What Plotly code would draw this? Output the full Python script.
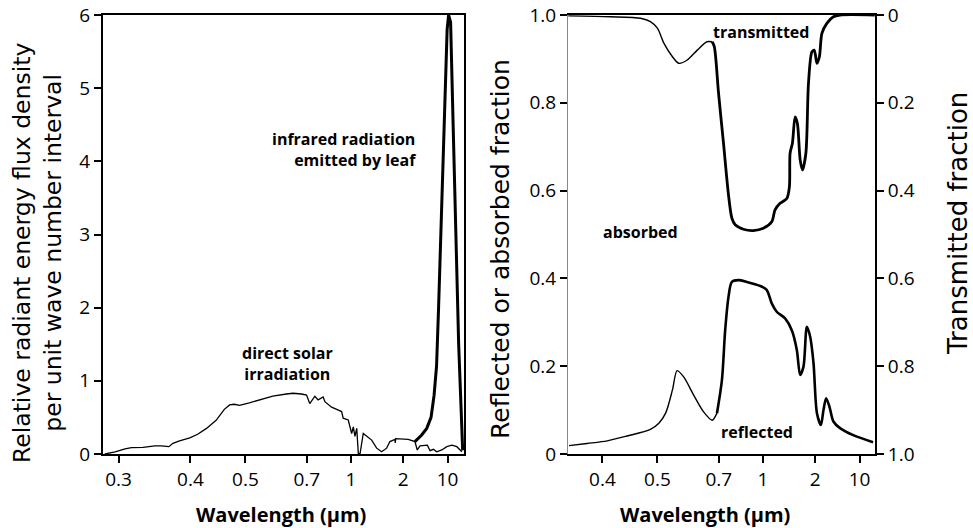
import numpy as np
import plotly.graph_objects as go

# ---------------- data ----------------
tick_values = [0.3, 0.4, 0.5, 0.7, 1, 2, 10]
tick_labels = ["0.3", "0.4", "0.5", "0.7", "1", "2", "10"]
# the printed wavelength axis is a non-uniform (hand-drawn) scale; these are its tick positions
scale_positions = [-232.5, -160.6, -105.6, -44.2, 0.0, 52.2, 96.6]

solar_wl = [0.284, 0.296, 0.308, 0.316, 0.331, 0.347, 0.356, 0.367, 0.373, 0.383,
            0.399, 0.412, 0.427, 0.444, 0.459, 0.469, 0.478, 0.488, 0.511, 0.550,
            0.581, 0.626, 0.649, 0.680, 0.699, 0.717, 0.747, 0.767, 0.799, 0.810,
            0.855, 0.891, 0.927, 0.939, 0.978, 1.009, 1.031, 1.054, 1.079, 1.102,
            1.127, 1.177, 1.231, 1.316, 1.406, 1.502, 1.605, 1.677, 1.792, 1.800,
            1.810, 1.915, 2.40, 3.06, 3.33, 3.68, 4.41, 4.80, 5.29, 5.97,
            6.75, 8.10, 9.72, 11.65, 13.98, 16.78]
solar_flux = [0.0, 0.03, 0.07, 0.086, 0.09, 0.11, 0.11, 0.10, 0.146, 0.18,
              0.22, 0.27, 0.35, 0.46, 0.61, 0.67, 0.68, 0.665, 0.70, 0.75,
              0.79, 0.82, 0.83, 0.82, 0.806, 0.69, 0.79, 0.74, 0.78, 0.715,
              0.64, 0.61, 0.58, 0.49, 0.465, 0.28, 0.37, 0.24, 0.35, 0.01,
              0.0, 0.28, 0.24, 0.19, 0.08, 0.03, 0.08, 0.17, 0.20, 0.15,
              0.21, 0.21, 0.20, 0.17, 0.055, 0.11, 0.11, 0.12, 0.045, 0.064,
              0.03, 0.055, 0.10, 0.12, 0.10, 0.03]

leaf_wl = [3.06, 3.91, 4.69, 5.49, 6.12, 6.70, 7.21, 8.10, 8.97, 9.83,
           10.37, 11.15, 12.22, 13.38, 14.93, 17.27]
leaf_flux = [0.17, 0.26, 0.35, 0.50, 0.80, 1.2, 2.0, 3.5, 4.8, 5.8,
             6.0, 5.9, 4.5, 3.0, 1.5, 0.05]

trans_wl = [0.349, 0.413, 0.467, 0.486, 0.500, 0.518, 0.543, 0.562, 0.589, 0.622,
            0.656, 0.675, 0.683, 0.699, 0.727, 0.757, 0.778, 0.799, 0.854, 0.925,
            1.004, 1.123, 1.173, 1.254, 1.372, 1.420, 1.433, 1.478, 1.532, 1.579,
            1.638, 1.689, 1.767, 1.829, 1.914, 1.974, 2.13, 2.33, 2.55, 3.05,
            3.87, 4.92, 17.35]
trans_frac = [0.002, 0.004, 0.0075, 0.015, 0.030, 0.064, 0.095, 0.110, 0.1025, 0.080,
              0.061, 0.061, 0.072, 0.178, 0.292, 0.410, 0.463, 0.478, 0.488, 0.491,
              0.486, 0.471, 0.444, 0.429, 0.418, 0.391, 0.315, 0.292, 0.232, 0.247,
              0.330, 0.353, 0.315, 0.156, 0.084, 0.080, 0.110, 0.095, 0.042, 0.019,
              0.004, 0.0, 0.0]

refl_wl = [0.350, 0.376, 0.408, 0.442, 0.486, 0.504, 0.523, 0.543, 0.557, 0.578,
           0.610, 0.644, 0.675, 0.693, 0.718, 0.737, 0.757, 0.778, 0.820, 0.878,
           0.976, 1.050, 1.123, 1.200, 1.341, 1.466, 1.567, 1.638, 1.712, 1.791,
           1.871, 1.956, 2.13, 2.46, 2.70, 2.97, 3.35, 3.87, 4.92, 7.94, 16.3]
refl_frac = [0.019, 0.024, 0.030, 0.041, 0.056, 0.070, 0.093, 0.146, 0.190, 0.175,
             0.134, 0.096, 0.077, 0.093, 0.169, 0.282, 0.358, 0.392, 0.396, 0.392,
             0.383, 0.374, 0.343, 0.324, 0.309, 0.282, 0.237, 0.180, 0.199, 0.290,
             0.267, 0.207, 0.093, 0.066, 0.100, 0.127, 0.108, 0.074, 0.059, 0.043, 0.027]

frac_ticks = [0, 0.2, 0.4, 0.6, 0.8, 1.0]
frac_labels = ["0", "0.2", "0.4", "0.6", "0.8", "1.0"]


# ---------------- scale ----------------
def to_axis(wl):
    lw = np.log10(np.asarray(wl, dtype=float))
    lt = np.log10(np.asarray(tick_values, dtype=float))
    p = np.asarray(scale_positions, dtype=float)
    out = np.interp(lw, lt, p)
    s0 = (p[1] - p[0]) / (lt[1] - lt[0])
    s1 = (p[-1] - p[-2]) / (lt[-1] - lt[-2])
    lo = lw < lt[0]
    hi = lw > lt[-1]
    out[lo] = p[0] + (lw[lo] - lt[0]) * s0
    out[hi] = p[-1] + (lw[hi] - lt[-1]) * s1
    return out


W, H = 973, 528


def px(x):
    return x / W


def py(y):
    return 1 - y / H


def split(wl, vals, at):
    wl = np.asarray(wl)
    vals = np.asarray(vals)
    a = wl <= at
    b = wl >= at
    return (wl[a], vals[a]), (wl[b], vals[b])


fig = go.Figure()

# left panel
fig.add_trace(go.Scatter(x=to_axis(solar_wl), y=solar_flux, mode="lines",
                         line=dict(color="black", width=1.3), xaxis="x", yaxis="y"))
fig.add_trace(go.Scatter(x=to_axis(leaf_wl), y=leaf_flux, mode="lines",
                         line=dict(color="black", width=3), xaxis="x", yaxis="y"))

# right panel
(t1w, t1v), (t2w, t2v) = split(trans_wl, trans_frac, 0.675)
fig.add_trace(go.Scatter(x=to_axis(t1w), y=t1v, mode="lines",
                         line=dict(color="black", width=1.4, shape="spline", smoothing=0.8),
                         xaxis="x2", yaxis="y3"))
fig.add_trace(go.Scatter(x=to_axis(t2w), y=t2v, mode="lines",
                         line=dict(color="black", width=2.8, shape="spline", smoothing=0.8),
                         xaxis="x2", yaxis="y3"))
(r1w, r1v), (r2w, r2v) = split(refl_wl, refl_frac, 0.693)
fig.add_trace(go.Scatter(x=to_axis(r1w), y=r1v, mode="lines",
                         line=dict(color="black", width=1.4, shape="spline", smoothing=0.8),
                         xaxis="x2", yaxis="y2"))
fig.add_trace(go.Scatter(x=to_axis(r2w), y=r2v, mode="lines",
                         line=dict(color="black", width=2.6, shape="spline", smoothing=0.8),
                         xaxis="x2", yaxis="y2"))

tickfont = dict(family="Open Sans", size=19, color="black")
common = dict(showgrid=False, zeroline=False, ticks="outside", ticklen=7, tickwidth=2,
              tickcolor="black", tickfont=tickfont, automargin=False)

ydom = [py(454), py(15)]
fig.update_layout(
    template="none",
    width=W, height=H, margin=dict(l=0, r=0, t=0, b=0, pad=0),
    paper_bgcolor="white", plot_bgcolor="white", showlegend=False,
    xaxis=dict(domain=[px(103), px(464)], range=[-248, 113], anchor="y",
               tickmode="array", tickvals=to_axis(tick_values), ticktext=tick_labels,
               showline=True, linewidth=2, linecolor="black", mirror=True, **common),
    yaxis=dict(domain=ydom, range=[0, 6], anchor="x", tickmode="array",
               tickvals=[0, 1, 2, 3, 4, 5, 6],
               showline=True, linewidth=2, linecolor="black", mirror=True, **common),
    xaxis2=dict(domain=[px(568), px(875)], range=[-195, 112], anchor="y2",
                tickmode="array", tickvals=to_axis(tick_values[1:]), ticktext=tick_labels[1:],
                showline=True, linewidth=2, linecolor="black", mirror=True, **common),
    yaxis2=dict(domain=ydom, range=[0, 1], anchor="x2", tickmode="array",
                tickvals=frac_ticks, ticktext=frac_labels,
                showline=True, linewidth=1, linecolor="#888888", **common),
    yaxis3=dict(domain=ydom, range=[1, 0], anchor="x2", overlaying="y2", side="right",
                tickmode="array", tickvals=frac_ticks, ticktext=frac_labels,
                showline=True, linewidth=2, linecolor="black", **common),
)

bold = dict(family="Open Sans", size=16, color="black", weight="bold")
ann = [
    dict(x=px(418), y=py(149), text="infrared radiation<br>emitted by leaf",
         xanchor="right", yanchor="middle", align="right", font=bold),
    dict(x=px(287), y=py(363), text="direct solar<br>irradiation",
         xanchor="center", yanchor="middle", align="center", font=bold),
    dict(x=px(760.5), y=py(31.5), text="transmitted", xanchor="center", yanchor="middle", font=bold),
    dict(x=px(640), y=py(232), text="absorbed", xanchor="center", yanchor="middle", font=bold),
    dict(x=px(756.5), y=py(432), text="reflected", xanchor="center", yanchor="middle", font=bold),
    dict(x=px(281), y=py(514), text="Wavelength (µm)", xanchor="center", yanchor="middle",
         font=dict(family="Open Sans", size=20, color="black", weight="bold")),
    dict(x=px(705), y=py(514), text="Wavelength (µm)", xanchor="center", yanchor="middle",
         font=dict(family="Open Sans", size=20, color="black", weight="bold")),
    dict(x=px(37), y=py(253), text="Relative radiant energy flux density<br>per unit wave number interval",
         textangle=-90, xanchor="center", yanchor="middle", align="center",
         font=dict(family="DejaVu Sans", size=23.5, color="black")),
    dict(x=px(500), y=py(249), text="Reflected or absorbed fraction", textangle=-90,
         xanchor="center", yanchor="middle", font=dict(family="DejaVu Sans", size=25, color="black")),
    dict(x=px(958), y=py(224), text="Transmitted fraction", textangle=-90,
         xanchor="center", yanchor="middle", font=dict(family="DejaVu Sans", size=26, color="black")),
]
for a in ann:
    a.update(xref="paper", yref="paper", showarrow=False)
fig.update_layout(annotations=ann)

fig.write_html("out.html", config={"displayModeBar": False},
               post_script="document.body.style.margin='0';document.body.style.padding='0';")
